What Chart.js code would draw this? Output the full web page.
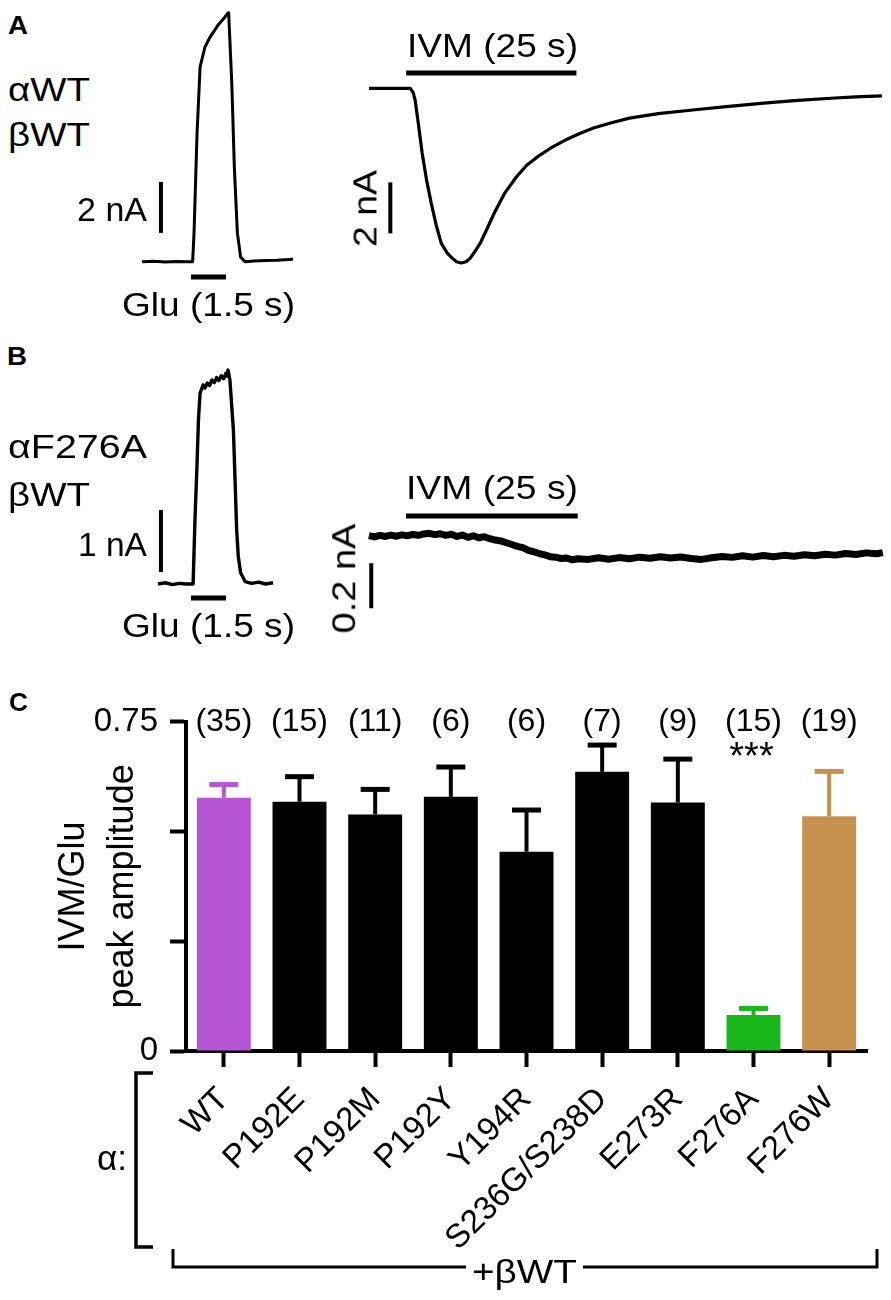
<!DOCTYPE html>
<html><head><meta charset="utf-8">
<script src="https://cdn.jsdelivr.net/npm/chart.js@4.4.1/dist/chart.umd.min.js"></script>
<style>
html,body{margin:0;padding:0;background:#fff;}
body{width:891px;height:1300px;overflow:hidden;position:relative;}
canvas{position:absolute;}
.t{position:absolute;white-space:nowrap;line-height:1;color:#000;font-family:'Liberation Sans',Arial,Helvetica,sans-serif;}
</style></head><body>
<canvas id="aGlu"></canvas>
<canvas id="aIvm"></canvas>
<canvas id="bGlu"></canvas>
<canvas id="bIvm"></canvas>
<canvas id="cBars"></canvas>
<script>
// ---------------- DATA ----------------
// Panel A: alphaWT/betaWT, glutamate response (time s, current nA)
const wtGluTime    = [-2.10,-1.60,-1.10,-0.60,-0.20,0.07,0.13,0.26,0.39,0.60,0.82,1.16,1.46,1.59,1.62,1.75,1.86,1.99,2.13,2.32,2.70,3.20,3.70,4.38];
const wtGluCurrent = [0.00,0.02,-0.01,0.01,0.00,0.00,1.13,5.05,7.64,8.42,8.81,9.28,9.60,9.76,9.67,7.01,3.71,1.13,0.18,0.00,0.03,0.05,0.06,0.10];
// Panel A: ivermectin response
const wtIvmTime    = [-5.44,-4.0,-2.0,0.0,0.59,1.00,1.32,1.80,2.35,3.00,3.68,4.40,5.15,6.00,6.76,7.40,8.09,8.80,9.41,10.10,10.88,11.90,12.94,14.50,16.18,17.70,19.26,21.30,23.38,25.40,27.50,30.00,32.80,37.00,42.06,47.00,52.50,57.50,62.94,66.00,69.85];
const wtIvmCurrent = [0,0,0,0,0,-0.15,-0.46,-1.40,-2.54,-3.60,-4.50,-5.35,-6.07,-6.45,-6.66,-6.80,-6.85,-6.80,-6.66,-6.40,-6.07,-5.50,-4.89,-4.10,-3.48,-3.02,-2.69,-2.33,-2.03,-1.78,-1.56,-1.36,-1.17,-0.99,-0.85,-0.72,-0.58,-0.47,-0.38,-0.34,-0.30];
// Panel B: alphaF276A/betaWT, glutamate response
const mutGluTime    = [-1.42,-1.10,-0.80,-0.50,-0.20,0.09,0.17,0.26,0.32,0.39,0.52,0.60,0.70,0.80,0.90,1.00,1.10,1.20,1.30,1.40,1.50,1.55,1.59,1.67,1.82,1.89,1.96,2.03,2.13,2.32,2.60,2.90,3.20,3.52];
const mutGluCurrent = [0.00,0.02,-0.01,0.01,0.00,0.00,1.03,1.95,2.65,3.08,3.21,3.16,3.24,3.20,3.29,3.25,3.33,3.28,3.36,3.31,3.40,3.35,3.45,3.29,2.48,1.68,0.87,0.44,0.18,0.04,0.01,0.03,0.00,0.02];
// Panel B: ivermectin response
const mutIvmTime    = [-5.4,-4.6,-3.8,-3.0,-2.2,-1.4,-0.6,0.2,1.0,1.8,2.6,3.4,4.2,5.0,5.8,6.6,7.4,8.2,9.0,9.8,10.6,11.4,12.2,13.0,13.8,14.6,15.4,16.2,17.0,17.8,18.6,19.4,20.2,21.0,21.8,22.6,23.4,24.2,25.0,26.5,28.0,29.5,31.0,32.5,34.0,35.5,37.0,38.5,40.0,41.5,43.0,44.5,46.0,47.5,49.0,50.5,52.0,53.5,55.0,56.5,58.0,59.5,61.0,62.5,64.0,65.5,67.0,68.5,69.4];
const mutIvmCurrent = [0.002,-0.004,0.003,-0.002,0.004,-0.001,0.005,0.001,0.007,0.003,0.009,0.012,0.006,0.010,0.003,0.008,-0.002,0.004,-0.006,0.001,-0.008,-0.003,-0.012,-0.018,-0.022,-0.030,-0.038,-0.046,-0.052,-0.064,-0.070,-0.078,-0.084,-0.092,-0.094,-0.100,-0.098,-0.106,-0.101,-0.104,-0.097,-0.103,-0.096,-0.101,-0.094,-0.099,-0.092,-0.098,-0.093,-0.100,-0.104,-0.097,-0.091,-0.095,-0.088,-0.094,-0.087,-0.092,-0.086,-0.090,-0.083,-0.088,-0.081,-0.085,-0.078,-0.082,-0.075,-0.079,-0.074];
// drug application durations (s) and scale-bar sizes (nA)
const gluDuration = 1.5;
const ivmDuration = 25;
const scaleBarNA = { aGlu: 2, aIvm: 2, bGlu: 1, bIvm: 0.2 };

// Panel C
const mutants     = ['WT','P192E','P192M','P192Y','Y194R','S236G/S238D','E273R','F276A','F276W'];
const ratioMean   = [0.577,0.568,0.539,0.579,0.454,0.636,0.566,0.082,0.535];
const ratioSem    = [0.030,0.057,0.057,0.068,0.095,0.061,0.099,0.015,0.102];
const cellCounts  = [35,15,11,6,6,7,9,15,19];
const significance= ['','','','','','','','***',''];
const yTickValues = [0,0.25,0.5,0.75];
const yTickLabels = ['0','','','0.75'];
const yTitle      = ['IVM/Glu','peak amplitude'];
const barColors   = ['#B554D4','#000000','#000000','#000000','#000000','#000000','#000000','#1BB81B','#C4924E'];

// ---------------- RENDERING ----------------
const FONT = "'Liberation Sans', Arial, Helvetica, sans-serif";
Chart.defaults.font.family = FONT;
Chart.defaults.color = '#000';
const pts = (xs, ys) => xs.map((v, i) => ({x: v, y: ys[i]}));
const seg = (x0, y0, x1, y1) => [{x: x0, y: y0}, {x: x1, y: y1}];

function traceChart(id, box, xr, yr, datasets) {
  const c = document.getElementById(id);
  c.width = box.w; c.height = box.h;
  c.style.left = box.x + 'px'; c.style.top = box.y + 'px';
  c.style.width = box.w + 'px'; c.style.height = box.h + 'px';
  return new Chart(c, {
    type: 'line',
    data: { datasets: datasets.map(d => Object.assign({borderColor: '#000', pointRadius: 0, fill: false, tension: 0, borderJoinStyle: 'round', borderCapStyle: 'butt', clip: 20}, d)) },
    options: {
      responsive: false, animation: false, events: [],
      layout: { padding: 0 },
      plugins: { legend: { display: false }, tooltip: { enabled: false } },
      scales: {
        x: { type: 'linear', display: false, min: xr[0], max: xr[1] },
        y: { type: 'linear', display: false, min: yr[0], max: yr[1] }
      }
    }
  });
}

// Panel A, glutamate
traceChart('aGlu', {x: 120, y: 0, w: 200, h: 300}, [-3.047, 5.536], [-1.502, 10.263], [
  { data: pts(wtGluTime, wtGluCurrent), borderWidth: 3 },
  { data: seg(-1.29, 1.13, -1.29, 1.13 + scaleBarNA.aGlu), borderWidth: 4 },
  { data: seg(0, -0.6, gluDuration, -0.6), borderWidth: 5 }
]);
// Panel A, ivermectin
traceChart('aIvm', {x: 330, y: 60, w: 561, h: 220}, [-11.176, 71.176], [-7.518, 1.110], [
  { data: pts(wtIvmTime, wtIvmCurrent), borderWidth: 3.2 },
  { data: seg(-2.32, -5.69, -2.32, -5.69 + scaleBarNA.aIvm), borderWidth: 4 },
  { data: seg(0, 0.6, ivmDuration, 0.6), borderWidth: 5 }
]);
// Panel B, glutamate
traceChart('bGlu', {x: 120, y: 340, w: 200, h: 290}, [-3.047, 5.536], [-0.742, 3.935], [
  { data: pts(mutGluTime, mutGluCurrent), borderWidth: 3.4 },
  { data: seg(-1.29, 0.194, -1.29, 0.194 + scaleBarNA.bGlu), borderWidth: 4 },
  { data: seg(0, -0.226, gluDuration, -0.226), borderWidth: 5 }
]);
// Panel B, ivermectin
traceChart('bIvm', {x: 330, y: 500, w: 561, h: 130}, [-11.063, 70.597], [-0.4178, 0.16], [
  { data: pts(mutIvmTime, mutIvmCurrent), borderWidth: 7 },
  { data: seg(-5.06, -0.321, -5.06, -0.321 + scaleBarNA.bIvm), borderWidth: 4 },
  { data: seg(0, 0.089, ivmDuration, 0.089), borderWidth: 5 }
]);

// Panel C bar chart
const decor = {
  id: 'decor',
  afterDatasetsDraw(chart) {
    const {ctx, scales: {x, y}, chartArea} = chart;
    ctx.save();
    ctx.lineCap = 'butt';
    ratioMean.forEach((m, i) => {
      const px = x.getPixelForValue(i);
      const top = y.getPixelForValue(m + ratioSem[i]);
      const base = y.getPixelForValue(m);
      ctx.strokeStyle = barColors[i];
      ctx.lineWidth = 4;
      ctx.beginPath(); ctx.moveTo(px, base); ctx.lineTo(px, top); ctx.stroke();
      ctx.lineWidth = 5;
      ctx.beginPath(); ctx.moveTo(px - 14.5, top); ctx.lineTo(px + 14.5, top); ctx.stroke();
    });
    ctx.fillStyle = '#000';
    ctx.textAlign = 'center';
    ctx.textBaseline = 'alphabetic';
    ctx.font = '32px ' + FONT;
    cellCounts.forEach((n, i) => ctx.fillText('(' + n + ')', x.getPixelForValue(i), chartArea.top + 9.5));
    ctx.font = '38px ' + FONT;
    significance.forEach((s, i) => { if (s) ctx.fillText(s, x.getPixelForValue(i) - 2, chartArea.top + 47); });
    // brackets
    ctx.strokeStyle = '#000';
    ctx.lineWidth = 3.5;
    ctx.lineJoin = 'miter';
    ctx.beginPath();
    ctx.moveTo(153, 383); ctx.lineTo(136, 383); ctx.lineTo(136, 557); ctx.lineTo(153, 557);
    ctx.stroke();
    ctx.lineWidth = 3;
    ctx.beginPath();
    ctx.moveTo(173, 559); ctx.lineTo(173, 577); ctx.lineTo(466, 577);
    ctx.moveTo(583, 577); ctx.lineTo(877, 577); ctx.lineTo(877, 559);
    ctx.stroke();
    ctx.restore();
  }
};

(function () {
  const c = document.getElementById('cBars');
  c.width = 891; c.height = 610;
  c.style.left = '0px'; c.style.top = '690px';
  c.style.width = '891px'; c.style.height = '610px';
  new Chart(c, {
    type: 'bar',
    data: { labels: mutants, datasets: [{ data: ratioMean, backgroundColor: barColors, borderWidth: 0, barPercentage: 0.713, categoryPercentage: 1.0 }] },
    options: {
      responsive: false, animation: false, events: [],
      layout: { padding: { left: 0, right: 24, top: 22, bottom: 0 } },
      plugins: { legend: { display: false }, tooltip: { enabled: false } },
      scales: {
        x: {
          grid: { display: true, drawOnChartArea: false, offset: false, tickLength: 16, tickWidth: 4, tickColor: '#000' },
          border: { display: true, width: 4, color: '#000' },
          ticks: { color: '#000', font: { size: 33 }, maxRotation: 45, minRotation: 45, autoSkip: false, padding: 13 },
          afterFit: s => { s.height = 249; }
        },
        y: {
          min: 0, max: 0.75,
          afterBuildTicks: s => { s.ticks = yTickValues.map(v => ({ value: v })); },
          ticks: { color: '#000', font: { size: 33 }, padding: 12, callback: (v, i) => yTickLabels[i] },
          grid: { display: true, drawOnChartArea: false, tickLength: 16, tickWidth: 4, tickColor: '#000' },
          border: { display: true, width: 4, color: '#000' },
          title: { display: true, text: yTitle, color: '#000', font: { size: 36, lineHeight: 1.36 }, padding: { top: 49.5, bottom: 0 } },
          afterFit: s => { s.width = 186; }
        }
      }
    },
    plugins: [decor]
  });
})();

// ---------------- TEXT ----------------
function addText(txt, left, capTop, size, width, bold) {
  const d = document.createElement('div');
  d.className = 't';
  d.textContent = txt;
  d.style.fontSize = size + 'px';
  if (bold) d.style.fontWeight = 'bold';
  d.style.left = left + 'px';
  d.style.top = (capTop - 0.1305 * size) + 'px';
  document.body.appendChild(d);
  if (width) {
    const w = d.getBoundingClientRect().width;
    d.style.transformOrigin = '0 0';
    d.style.transform = 'scaleX(' + (width / w) + ')';
  }
}
function addRotText(txt, cx, cy, size, length) {
  const d = document.createElement('div');
  d.className = 't';
  d.textContent = txt;
  d.style.fontSize = size + 'px';
  document.body.appendChild(d);
  const r = d.getBoundingClientRect();
  d.style.left = (cx - r.width / 2) + 'px';
  d.style.top = (cy - r.height / 2) + 'px';
  d.style.transform = 'rotate(-90deg) scaleX(' + (length / r.width) + ')';
}
addText('A', 8, 16, 25, 20, true);
addText('αWT', 8, 77, 33, 82);
addText('βWT', 8, 122, 33, 82);
addText('2 nA', 77, 197, 33, 70);
addText('Glu (1.5 s)', 122, 292, 33, 173);
addText('IVM (25 s)', 407, 33, 33, 171);
addRotText('2 nA', 365, 208, 33, 77);
addText('B', 7, 347, 25, 20, true);
addText('αF276A', 8, 434, 33, 139);
addText('βWT', 8, 482, 33, 82);
addText('1 nA', 78, 532, 33, 69);
addText('Glu (1.5 s)', 122, 613, 33, 173);
addText('IVM (25 s)', 406, 475, 33, 172);
addRotText('0.2 nA', 344, 578, 33, 110);
addText('C', 9, 693, 25, 19, true);
addText('α:', 97, 1145, 35, 30);
addText('+βWT', 472, 1259, 33, 105);
</script>
</body></html>
